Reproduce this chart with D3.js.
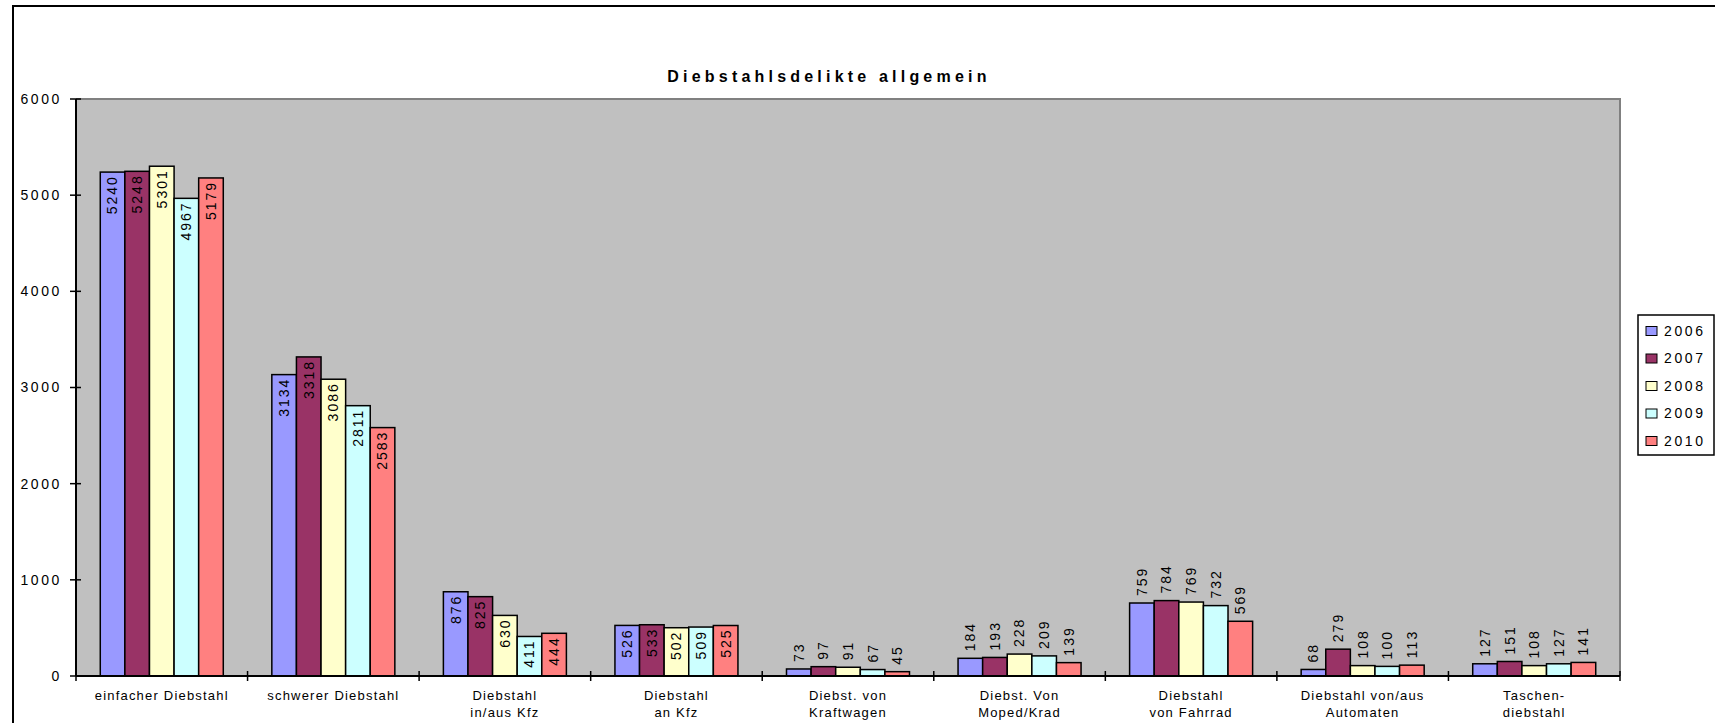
<!DOCTYPE html>
<html>
<head>
<meta charset="utf-8">
<script src="https://cdn.jsdelivr.net/npm/d3@7"></script>
<style>
  body { margin: 0; background: white; }
  svg { display: block; font-family: "Liberation Sans", Arial, sans-serif; }
</style>
</head>
<body>
<script>
//categories (each entry = label lines under the axis)
var categories = [
  ["einfacher Diebstahl"],
  ["schwerer Diebstahl"],
  ["Diebstahl", "in/aus Kfz"],
  ["Diebstahl", "an Kfz"],
  ["Diebst. von", "Kraftwagen"],
  ["Diebst. Von", "Moped/Krad"],
  ["Diebstahl", "von Fahrrad"],
  ["Diebstahl von/aus", "Automaten"],
  ["Taschen-", "diebstahl"]
];
var years = ["2006", "2007", "2008", "2009", "2010"];
var colors = ["#9999FF", "#993366", "#FFFFCC", "#CCFFFF", "#FF8080"];

//one array per year, in category order
var v2006 = [5240, 3134, 876, 526, 73, 184, 759, 68, 127];
var v2007 = [5248, 3318, 825, 533, 97, 193, 784, 279, 151];
var v2008 = [5301, 3086, 630, 502, 91, 228, 769, 108, 108];
var v2009 = [4967, 2811, 411, 509, 67, 209, 732, 100, 127];
var v2010 = [5179, 2583, 444, 525, 45, 139, 569, 113, 141];
var series = [v2006, v2007, v2008, v2009, v2010];

var yTicks = [0, 1000, 2000, 3000, 4000, 5000, 6000];
var title = "Diebstahlsdelikte allgemein";

//plot area (note: "top" is reserved on window, so use p* names)
var pLeft = 76, pRight = 1620, pTop = 99, pBottom = 676;

var svg = d3.select("body").append("svg")
    .attr("width", 1715)
    .attr("height", 723);

//outer chart border
svg.append("rect")
    .attr("x", 13).attr("y", 6)
    .attr("width", 1715).attr("height", 730)
    .attr("fill", "white")
    .attr("stroke", "black")
    .attr("stroke-width", 2);

//grey plot background
svg.append("rect")
    .attr("x", pLeft).attr("y", pTop)
    .attr("width", pRight - pLeft).attr("height", pBottom - pTop)
    .attr("fill", "#C0C0C0");
svg.append("path")
    .attr("d", "M" + pLeft + "," + pTop + "H" + pRight + "V" + pBottom)
    .attr("fill", "none")
    .attr("stroke", "#808080")
    .attr("stroke-width", 2);

var idx = d3.range(categories.length);

var x0 = d3.scaleBand()
    .domain(idx)
    .range([pLeft, pRight])
    .paddingInner(0.283)
    .paddingOuter(0.1415);

var x1 = d3.scaleBand()
    .domain(d3.range(years.length))
    .range([0, x0.bandwidth()]);

var y = d3.scaleLinear()
    .domain([0, 6000])
    .range([pBottom, pTop]);

//bars
var groups = svg.selectAll(".grp")
    .data(idx)
  .enter().append("g")
    .attr("class", "grp")
    .attr("transform", function(i) { return "translate(" + x0(i) + ",0)"; });

groups.selectAll("rect")
    .data(function(i) { return series.map(function(s, k) { return {k: k, v: s[i], c: i}; }); })
  .enter().append("rect")
    .attr("x", function(d) { return x1(d.k); })
    .attr("width", x1.bandwidth())
    .attr("y", function(d) { return y(d.v); })
    .attr("height", function(d) { return pBottom - y(d.v); })
    .attr("fill", function(d) { return colors[d.k]; })
    .attr("stroke", "black")
    .attr("stroke-width", 1.5);

//value labels, rotated; inside the bar for the first four groups, above otherwise
groups.selectAll("text")
    .data(function(i) { return series.map(function(s, k) { return {k: k, v: s[i], c: i}; }); })
  .enter().append("text")
    .attr("transform", function(d) {
      var cx = x1(d.k) + x1.bandwidth() / 2;
      var yy = d.c < 4 ? y(d.v) + 3 : y(d.v) - 7;
      return "translate(" + cx + "," + yy + ")rotate(-90)";
    })
    .attr("text-anchor", function(d) { return d.c < 4 ? "end" : "start"; })
    .attr("dy", "0.35em")
    .style("font-size", "14px")
    .style("letter-spacing", "2px")
    .text(function(d) { return d.v; });

//y axis
svg.append("line")
    .attr("x1", pLeft).attr("x2", pLeft)
    .attr("y1", pTop).attr("y2", pBottom)
    .attr("stroke", "black").attr("stroke-width", 2);

svg.selectAll(".ytick")
    .data(yTicks)
  .enter().append("line")
    .attr("x1", pLeft - 6).attr("x2", pLeft + 5)
    .attr("y1", function(d) { return y(d); })
    .attr("y2", function(d) { return y(d); })
    .attr("stroke", "black").attr("stroke-width", 1.5);

svg.selectAll(".ylab")
    .data(yTicks)
  .enter().append("text")
    .attr("x", 62)
    .attr("y", function(d) { return y(d); })
    .attr("dy", "0.35em")
    .attr("text-anchor", "end")
    .style("font-size", "14px")
    .style("letter-spacing", "2.6px")
    .text(function(d) { return d; });

//x axis
svg.append("line")
    .attr("x1", pLeft).attr("x2", pRight)
    .attr("y1", pBottom).attr("y2", pBottom)
    .attr("stroke", "black").attr("stroke-width", 2);

var step = x0.step();
svg.selectAll(".xtick")
    .data(d3.range(categories.length + 1))
  .enter().append("line")
    .attr("x1", function(i) { return pLeft + i * step; })
    .attr("x2", function(i) { return pLeft + i * step; })
    .attr("y1", pBottom - 5).attr("y2", pBottom + 5)
    .attr("stroke", "black").attr("stroke-width", 1.5);

var xlab = svg.selectAll(".xlab")
    .data(idx)
  .enter().append("text")
    .attr("text-anchor", "middle")
    .style("font-size", "13px")
    .style("letter-spacing", "1.2px");

xlab.selectAll("tspan")
    .data(function(i) { return categories[i].map(function(t, j) { return {t: t, j: j, i: i}; }); })
  .enter().append("tspan")
    .attr("x", function(d) { return x0(d.i) + x0.bandwidth() / 2; })
    .attr("y", function(d) { return 700 + d.j * 17; })
    .text(function(d) { return d.t; });

//title
svg.append("text")
    .attr("x", 829)
    .attr("y", 82)
    .attr("text-anchor", "middle")
    .style("font-size", "16px")
    .style("font-weight", "bold")
    .style("letter-spacing", "4.2px")
    .text(title);

//legend
var legend = svg.append("g").attr("transform", "translate(1638,315)");
legend.append("rect")
    .attr("width", 76).attr("height", 140)
    .attr("fill", "white")
    .attr("stroke", "black").attr("stroke-width", 1.5);

var items = legend.selectAll(".item")
    .data(years)
  .enter().append("g")
    .attr("transform", function(d, i) { return "translate(0," + (16 + i * 27.5) + ")"; });

items.append("rect")
    .attr("x", 8).attr("y", -4.5)
    .attr("width", 11).attr("height", 9)
    .attr("fill", function(d, i) { return colors[i]; })
    .attr("stroke", "black").attr("stroke-width", 1);

items.append("text")
    .attr("x", 26)
    .attr("dy", "0.35em")
    .style("font-size", "14px")
    .style("letter-spacing", "2.6px")
    .text(function(d) { return d; });
</script>
</body>
</html>
